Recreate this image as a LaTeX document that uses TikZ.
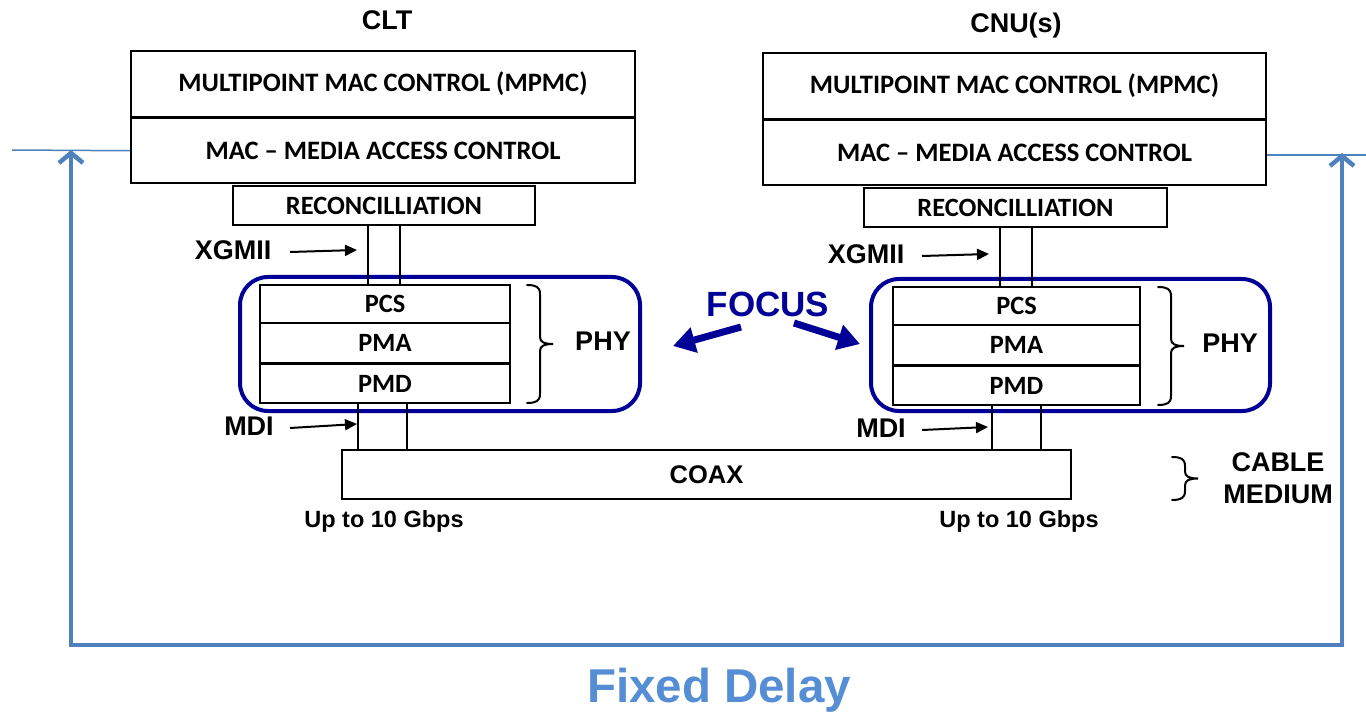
\documentclass[tikz,border=0pt]{standalone}
\usepackage{fontspec}
\setmainfont{Liberation Sans}
\newfontfamily\calib{Carlito}
\usetikzlibrary{arrows.meta}
\definecolor{focusblue}{RGB}{0,0,150}
\definecolor{fdblue}{RGB}{79,129,189}
\definecolor{fdtext}{RGB}{85,142,213}
\begin{document}
\begin{tikzpicture}[x=1pt,y=-1pt,
  layerbox/.style={draw=black, line width=2pt, fill=white, inner sep=0pt,
    font=\calib\bfseries\fontsize{26.6}{30}\selectfont},
  smallbox/.style={layerbox, font=\calib\bfseries\fontsize{26.4}{30}\selectfont},
  phybox/.style={draw=focusblue, line width=4pt, rounded corners=28pt, inner sep=0pt},
  lbl/.style={font=\bfseries\fontsize{27}{32}\selectfont, inner sep=0pt},
  rate/.style={font=\bfseries\fontsize{23.5}{28}\selectfont, inner sep=0pt},
  wire/.style={draw=black, line width=2pt},
  ptr/.style={draw=black, line width=2pt, -{Triangle[length=12pt,width=11pt]}},
  focusarrow/.style={draw=focusblue, line width=7pt, -{Triangle[length=22pt,width=25pt]}},
  fdpath/.style={draw=fdblue, line width=4.5pt, line join=miter,
    {Straight Barb[length=10pt,width=24pt]}-{Straight Barb[length=10pt,width=24pt]}},
  thinblue/.style={draw=fdblue, line width=1.5pt},
  pics/rbrace/.style={code={
    \draw[line width=2pt, line cap=round]
      (0,-#1) .. controls (9,-#1) and (13,{-#1+2}) .. (13,{-#1+9})
      -- (13,-7) .. controls (13,-2) and (17,0) .. (26,0)
      .. controls (17,0) and (13,2) .. (13,7)
      -- (13,{#1-9}) .. controls (13,{#1-2}) and (9,#1) .. (0,#1);
  }}
]
\useasboundingbox (0,0) rectangle (1366,714);

% ---------- titles ----------
\node[lbl] (clt) at (387,20) {CLT};
\node[lbl] (cnu) at (1016,26) {CNU(s)};

% ---------- PHY rounded frames (behind) ----------
\node[phybox, minimum width=400, minimum height=134] (phyL) at (440,344) {};
\node[phybox, minimum width=399, minimum height=132] (phyR) at (1070.5,345) {};

% ---------- left stack ----------
\node[layerbox, minimum width=504, minimum height=66] (mpmcL) at (383,84) {MULTIPOINT MAC CONTROL (MPMC)};
\node[layerbox, minimum width=504, minimum height=64.5] (macL) at (383,150.75) {MAC – MEDIA ACCESS CONTROL};
\node[smallbox, minimum width=302, minimum height=39] (recL) at (384,205.5) {RECONCILLIATION};
\node[smallbox, minimum width=250, minimum height=38] (pcsL) at (385,304) {PCS};
\node[smallbox, minimum width=250, minimum height=39.5] (pmaL) at (385,342.75) {PMA};
\node[smallbox, minimum width=250, minimum height=39] (pmdL) at (385,383.5) {PMD};

% ---------- right stack ----------
\node[layerbox, minimum width=503, minimum height=66] (mpmcR) at (1014.5,86) {MULTIPOINT MAC CONTROL (MPMC)};
\node[layerbox, minimum width=503, minimum height=65] (macR) at (1014.5,153) {MAC – MEDIA ACCESS CONTROL};
\node[smallbox, minimum width=303, minimum height=39] (recR) at (1015.5,207.5) {RECONCILLIATION};
\node[smallbox, minimum width=247, minimum height=38] (pcsR) at (1016.5,306) {PCS};
\node[smallbox, minimum width=247, minimum height=39.5] (pmaR) at (1016.5,344.75) {PMA};
\node[smallbox, minimum width=247, minimum height=39] (pmdR) at (1016.5,385.5) {PMD};

% ---------- coax ----------
\node[draw=black, line width=2pt, inner sep=0pt, minimum width=729, minimum height=49,
  font=\bfseries\fontsize{25.5}{30}\selectfont] (coax) at (706.5,474.5) {COAX};

% ---------- XGMII / MDI wires ----------
\draw[wire] ([xshift=-16pt]recL.south) -- ([xshift=-16pt]recL.south |- pcsL.north);
\draw[wire] ([xshift=16pt]recL.south) -- ([xshift=16pt]recL.south |- pcsL.north);
\draw[wire] ([xshift=-15.5pt]recR.south) -- ([xshift=-15.5pt]recR.south |- pcsR.north);
\draw[wire] ([xshift=16.5pt]recR.south) -- ([xshift=16.5pt]recR.south |- pcsR.north);
\draw[wire] ([xshift=-27pt]pmdL.south) -- ([xshift=-27pt]pmdL.south |- coax.north);
\draw[wire] ([xshift=22pt]pmdL.south) -- ([xshift=22pt]pmdL.south |- coax.north);
\draw[wire] ([xshift=-24.5pt]pmdR.south) -- ([xshift=-24.5pt]pmdR.south |- coax.north);
\draw[wire] ([xshift=24.5pt]pmdR.south) -- ([xshift=24.5pt]pmdR.south |- coax.north);

% ---------- interface labels ----------
\node[lbl] (xgmiiL) at (233,250) {XGMII};
\node[lbl] (xgmiiR) at (866,254) {XGMII};
\node[lbl] (mdiL) at (249,426) {MDI};
\node[lbl] (mdiR) at (881,428) {MDI};
\coordinate (xgL1) at (290,252); \coordinate (xgL2) at (357,250);
\coordinate (xgR1) at (922,256); \coordinate (xgR2) at (989,254);
\coordinate (mdL1) at (290,428); \coordinate (mdL2) at (357,424);
\coordinate (mdR1) at (922,430); \coordinate (mdR2) at (988,427);
\draw[ptr] (xgL1) -- (xgL2);
\draw[ptr] (xgR1) -- (xgR2);
\draw[ptr] (mdL1) -- (mdL2);
\draw[ptr] (mdR1) -- (mdR2);

% ---------- braces ----------
\pic at (527,344) {rbrace=59};
\pic at (1158,346) {rbrace=59};
\pic at (1172,478.5) {rbrace=21.5};
\node[lbl] (phyLabL) at (603,341) {PHY};
\node[lbl] (phyLabR) at (1230,343) {PHY};
\node[lbl, align=center, font=\bfseries\fontsize{27}{32}\selectfont] (cable) at (1278,478) {CABLE\\MEDIUM};

% ---------- rates ----------
\node[rate] (rateL) at (384,521) {Up to 10 Gbps};
\node[rate] (rateR) at (1019,521) {Up to 10 Gbps};

% ---------- focus ----------
\node[font=\bfseries\fontsize{35}{40}\selectfont, text=focusblue, inner sep=0pt] (focus) at (768,304) {FOCUS};
\coordinate (fL1) at (741,327); \coordinate (fL2) at (673,346);
\coordinate (fR1) at (794,323); \coordinate (fR2) at (860,344);
\draw[focusarrow] (fL1) -- (fL2);
\draw[focusarrow] (fR1) -- (fR2);

% ---------- fixed delay loop ----------
\coordinate (tipL) at (71,150);
\coordinate (cornL) at (71,645);
\coordinate (cornR) at (1342,645);
\coordinate (tipR) at (1342,153);
\draw[fdpath] (tipL) -- (cornL) -- (cornR) -- (tipR);
\coordinate (thinL) at (12,150);
\coordinate (thinR) at (1366,155);
\draw[thinblue] (thinL) -- (macL.west);
\draw[thinblue] (macR.east |- thinR) -- (thinR);
\node[font=\bfseries\fontsize{47.5}{52}\selectfont, text=fdtext, inner sep=0pt] (fixed) at (719,690) {Fixed Delay};
\end{tikzpicture}
\end{document}
